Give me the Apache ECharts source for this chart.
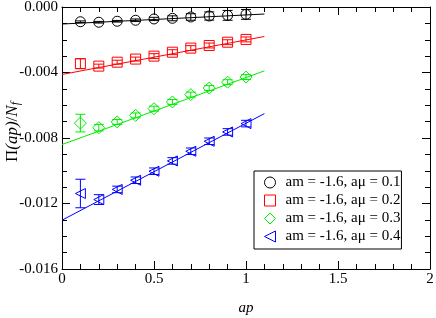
<!DOCTYPE html>
<html><head><meta charset="utf-8">
<script src="https://cdn.jsdelivr.net/npm/echarts@6/dist/echarts.min.js"></script>
<style>html,body{margin:0;padding:0;background:#fff}#c{width:436px;height:318px}</style>
</head><body><div id="c"></div>
<script>
const apValues = [0.1,0.2,0.3,0.4,0.5,0.6,0.7,0.8,0.9,1.0];
const names = ['am = -1.6, aμ = 0.1','am = -1.6, aμ = 0.2','am = -1.6, aμ = 0.3','am = -1.6, aμ = 0.4'];
const colors = ['#000000','#ff0000','#00ee00','#0000ff'];
const mu01 = [-0.00090,-0.00093,-0.00087,-0.00081,-0.00073,-0.00069,-0.00061,-0.00055,-0.00051,-0.00045];
const mu02 = [-0.00346,-0.00361,-0.00337,-0.00318,-0.00300,-0.00276,-0.00251,-0.00235,-0.00215,-0.00198];
const mu03 = [-0.00709,-0.00737,-0.00702,-0.00662,-0.00621,-0.00580,-0.00535,-0.00495,-0.00459,-0.00428];
const mu04 = [-0.01139,-0.01176,-0.01114,-0.01058,-0.01003,-0.00940,-0.00881,-0.00820,-0.00763,-0.00712];
const err01 = [0.00005,0.00005,0.00005,0.00008,0.0001,0.00015,0.0002,0.00025,0.0003,0.0003];
const err02 = [0.0003,0.00012,0.00012,0.00012,0.00015,0.00015,0.00015,0.00015,0.00015,0.00015];
const err03 = [0.00054,0.0002,0.00015,0.00015,0.00015,0.00015,0.00015,0.00015,0.00015,0.00015];
const err04 = [0.00087,0.0003,0.0002,0.0002,0.0002,0.0002,0.0002,0.0002,0.0002,0.0002];
const fitX = [0, 1.1];
const fit01 = [-0.00104,-0.00043];
const fit02 = [-0.00412,-0.00180];
const fit03 = [-0.00840,-0.00390];
const fit04 = [-0.01302,-0.00651];

const vals = [mu01,mu02,mu03,mu04];
const errs = [err01,err02,err03,err04];
const fits = [fit01,fit02,fit03,fit04];
const symbols = ['circle','rect','diamond','path://M0,5L10,0L10,10Z'];
const sizes = [[10,10],[10,10],[12,12],[10,10]];
const font = 'Liberation Serif';

const series = [];
for (let i = 0; i < 4; i++) {
  series.push({
    type:'line', data: fitX.map((x,k)=>[x,fits[i][k]]), showSymbol:false, symbol:'none',
    lineStyle:{color:colors[i], width:1}, silent:true, z:2
  });
  series.push({
    type:'custom', silent:true, z:3,
    data: apValues.map((x,k)=>[x, vals[i][k], errs[i][k]]),
    renderItem: (function(col){ return function(params, api){
      const x = api.value(0), y = api.value(1), e = api.value(2);
      const p1 = api.coord([x, y+e]), p2 = api.coord([x, y-e]);
      const hw = 5;
      return {type:'group', children:[
        {type:'line', shape:{x1:p1[0],y1:p1[1],x2:p2[0],y2:p2[1]}, style:{stroke:col, lineWidth:1}},
        {type:'line', shape:{x1:p1[0]-hw,y1:p1[1],x2:p1[0]+hw,y2:p1[1]}, style:{stroke:col, lineWidth:1}},
        {type:'line', shape:{x1:p2[0]-hw,y1:p2[1],x2:p2[0]+hw,y2:p2[1]}, style:{stroke:col, lineWidth:1}}
      ]};
    };})(colors[i])
  });
  series.push({
    name: names[i], type:'scatter', z:4,
    data: apValues.map((x,k)=>[x, vals[i][k]]),
    symbol: symbols[i], symbolSize: sizes[i],
    itemStyle:{color:'rgba(255,255,255,0)', borderColor:colors[i], borderWidth:1, opacity:1}
  });
}

function line(){ return {show:true, onZero:false, lineStyle:{color:'#000', width:1}}; }
function tick(){ return {show:true, inside:true, length:8, lineStyle:{color:'#000', width:1}}; }
function minor(n){ return {show:true, splitNumber:n, length:5, lineStyle:{color:'#000', width:1}}; }

const chart = echarts.init(document.getElementById('c'), null, {renderer:'canvas'});
chart.setOption({
  animation:false,
  backgroundColor:'#fff',
  grid:{left:62, right:6, top:7, bottom:49, containLabel:false, outerBoundsMode:'none'},
  legend:{
    data: names.map((n,i)=>({name:n, icon:symbols[i], itemStyle:{color:'rgba(255,255,255,0)', borderColor:colors[i], borderWidth:1}})),
    orient:'vertical', left:254, top:171,
    padding:[4,1,5,10], itemGap:3, itemWidth:11, itemHeight:11,
    borderColor:'#000', borderWidth:1, backgroundColor:'#fff',
    textStyle:{fontFamily:font, fontSize:15, color:'#000', padding:[0,0,0,5]},
    selectedMode:false
  },
  xAxis:[
    {type:'value', min:0, max:2, interval:0.5, position:'bottom',
      axisLine:line(), axisTick:tick(), minorTick:minor(5), splitLine:{show:false}, minorSplitLine:{show:false},
      axisLabel:{fontFamily:font, fontSize:15, color:'#000', margin:3, formatter:v=>String(v)},
      name:'ap', nameLocation:'middle', nameGap:32, nameMoveOverlap:false,
      nameTextStyle:{fontFamily:font, fontSize:15, fontStyle:'italic', color:'#000'}
    },
    {type:'value', min:0, max:2, interval:0.5, position:'top', axisLabel:{show:false},
      axisLine:line(), axisTick:tick(), minorTick:minor(5), splitLine:{show:false}}
  ],
  yAxis:[
    {type:'value', min:-0.016, max:0, interval:0.004, position:'left',
      axisLine:line(), axisTick:tick(), minorTick:minor(4), splitLine:{show:false},
      axisLabel:{fontFamily:font, fontSize:15, color:'#000', margin:4, formatter:v=>v.toFixed(3)},
      name:'{n|Π}{i|(ap)}{n|/}{i|N}{s|f}', nameLocation:'middle', nameGap:40, nameRotate:90, nameMoveOverlap:false,
      nameTextStyle:{fontFamily:font, fontSize:17, color:'#000', padding:[0,0,0,12],
        rich:{n:{fontFamily:font,fontSize:17}, i:{fontFamily:font,fontSize:17,fontStyle:'italic'},
              s:{fontFamily:font,fontSize:12,fontStyle:'italic',verticalAlign:'bottom',padding:[7,0,0,0]}}}
    },
    {type:'value', min:-0.016, max:0, interval:0.004, position:'right', axisLabel:{show:false},
      axisLine:line(), axisTick:tick(), minorTick:minor(4), splitLine:{show:false}}
  ],
  series: series
});
</script></body></html>
